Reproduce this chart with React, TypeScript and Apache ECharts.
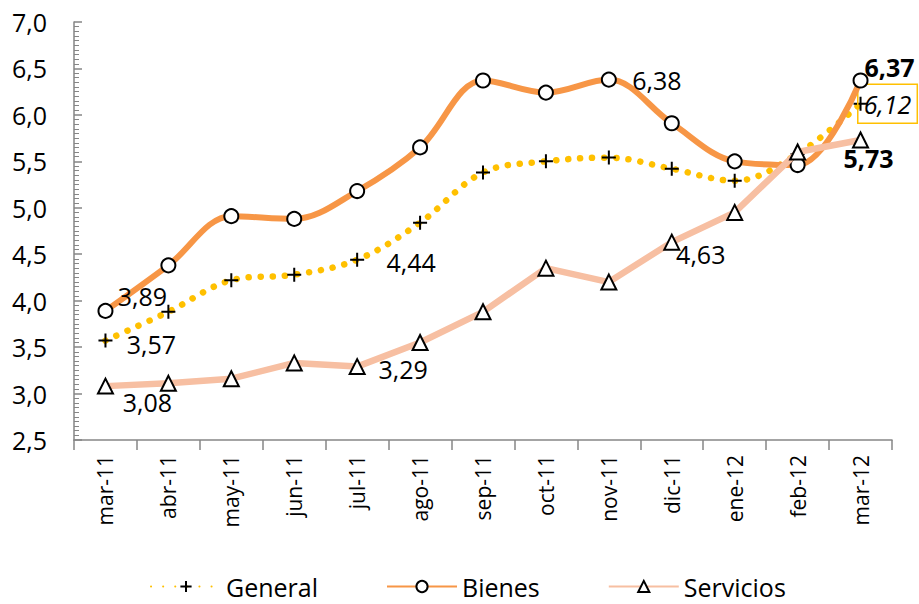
import React, { useEffect, useRef } from "react";
import * as echarts from "echarts";

const categories = ["mar-11", "abr-11", "may-11", "jun-11", "jul-11", "ago-11", "sep-11", "oct-11", "nov-11", "dic-11", "ene-12", "feb-12", "mar-12"];
const general = [3.57, 3.88, 4.22, 4.28, 4.44, 4.84, 5.38, 5.5, 5.54, 5.42, 5.29, 5.58, 6.12];
const bienes = [3.89, 4.38, 4.91, 4.88, 5.18, 5.65, 6.37, 6.24, 6.38, 5.91, 5.5, 5.46, 6.37];
const servicios = [3.08, 3.11, 3.16, 3.33, 3.29, 3.55, 3.88, 4.35, 4.2, 4.63, 4.95, 5.6, 5.73];
const yTicks = { min: 2.5, max: 7.0, interval: 0.5 };

const FONT = "'Open Sans', 'Noto Sans', sans-serif";
const fmt2 = (v: number) => v.toFixed(2).replace(".", ",");

// label placements (index -> style) per series
const generalLabels: Record<number, any> = {
  0: { offset: [46, 3] },
  4: { offset: [54, 2] },
  12: {
    offset: [27, 0],
    fontStyle: "italic",
    borderColor: "#FFC000",
    borderWidth: 1.5,
    padding: [7, 6, 7, 6],
  },
};
const bienesLabels: Record<number, any> = {
  0: { offset: [37, -15] },
  8: { offset: [48, 0] },
  12: { offset: [29, -14], fontWeight: "bold" },
};
const serviciosLabels: Record<number, any> = {
  0: { offset: [42, 16] },
  4: { offset: [46, 2] },
  9: { offset: [29, 12] },
  12: { offset: [8, 18], fontWeight: "bold" },
};

function buildData(values: number[], specs: Record<number, any>) {
  return values.map((v, i) =>
    specs[i]
      ? {
          value: v,
          label: {
            show: true,
            position: "inside",
            align: "center",
            verticalAlign: "middle",
            color: "#000",
            fontSize: 25,
            fontFamily: FONT,
            formatter: (p: any) => fmt2(p.value),
            ...specs[i],
          },
        }
      : v
  );
}

const PLUS = "path://M0,5L10,5M5,0L5,10";

export default function App() {
  const ref = useRef<HTMLDivElement>(null);
  useEffect(() => {
    if (!ref.current) return;
    const chart = echarts.init(ref.current, null, { renderer: "svg" });
    chart.setOption({
      animation: false,
      backgroundColor: "#fff",
      textStyle: { fontFamily: FONT },
      grid: { left: 74, right: 27, top: 22, bottom: 164, containLabel: false },
      legend: {
        left: 145,
        top: 569,
        itemWidth: 70,
        itemHeight: 14,
        itemGap: 68,
        textStyle: { fontSize: 25, color: "#000", fontFamily: FONT },
        data: ["General", "Bienes", "Servicios"],
      },
      xAxis: {
        type: "category",
        data: categories,
        boundaryGap: true,
        axisLine: { lineStyle: { color: "#868686", width: 1.5 } },
        axisTick: { show: true, length: 10, lineStyle: { color: "#868686", width: 1.5 } },
        axisLabel: { rotate: 90, fontSize: 21, color: "#000", margin: 15, fontFamily: FONT, interval: 0 },
      },
      yAxis: {
        type: "value",
        min: yTicks.min,
        max: yTicks.max,
        interval: yTicks.interval,
        splitLine: { show: false },
        axisLine: { show: true, lineStyle: { color: "#868686", width: 1.5 } },
        axisTick: { show: true, inside: true, length: 8, lineStyle: { color: "#868686", width: 1.5 } },
        minorTick: { show: true, splitNumber: 10, length: 5, lineStyle: { color: "#868686", width: 1 } },
        axisLabel: {
          fontSize: 25,
          color: "#000",
          margin: 27,
          fontFamily: FONT,
          formatter: (v: number) => v.toFixed(1).replace(".", ","),
        },
      },
      series: [
        {
          name: "General",
          type: "line",
          smooth: 0.35,
          z: 2,
          data: buildData(general, generalLabels),
          symbol: PLUS,
          symbolSize: 14,
          showAllSymbol: true,
          lineStyle: { color: "#FFC000", width: 6.5, type: [0.1, 12], cap: "round" },
          itemStyle: { color: "rgba(0,0,0,0)", borderColor: "#000", borderWidth: 2 },
        },
        {
          name: "Bienes",
          type: "line",
          smooth: 0.35,
          z: 3,
          data: buildData(bienes, bienesLabels),
          symbol: "circle",
          symbolSize: 14,
          showAllSymbol: true,
          lineStyle: { color: "#F79646", width: 6 },
          itemStyle: { color: "#fff", borderColor: "#000", borderWidth: 2 },
        },
        {
          name: "Servicios",
          type: "line",
          smooth: false,
          z: 4,
          data: buildData(servicios, serviciosLabels),
          symbol: "triangle",
          symbolSize: 15,
          showAllSymbol: true,
          lineStyle: { color: "#F7BFA2", width: 6.5 },
          itemStyle: { color: "#fff", borderColor: "#000", borderWidth: 2 },
        },
      ],
    });
    return () => chart.dispose();
  }, []);
  return (
    <div
      ref={ref}
      style={{ position: "fixed", left: 0, top: 0, width: 919, height: 604, background: "#fff" }}
    />
  );
}
